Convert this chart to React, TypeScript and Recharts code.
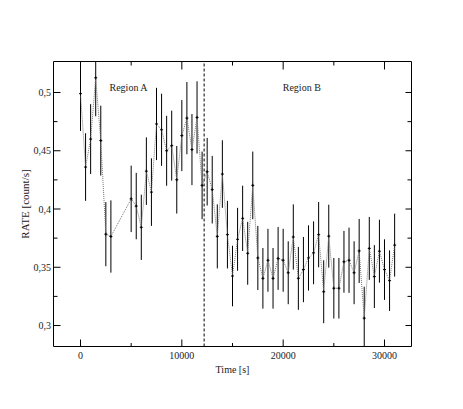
import React from 'react';
import { LineChart, Line, XAxis, YAxis, ErrorBar, ReferenceLine, ReferenceDot, Label } from 'recharts';

const times = [
  0, 500, 1000, 1500, 2000, 2500, 3000, 5000, 5500, 6000, 6500, 7000, 7500, 8000, 8500, 9000, 9500, 10000, 10500, 11000, 11500, 12000,
  12500, 13000, 13500, 14000, 14500, 15000, 15500, 16000, 16500, 17000, 17500, 18000, 18500, 19000, 19500, 20000, 20500, 21000,
  21500, 22000, 22500, 23000, 23500, 24000, 24500, 25000, 25500, 26000, 26500, 27000, 27500, 28000, 28500, 29000, 29500, 30000,
  30500, 31000,
];

const rates = [
  0.499, 0.436, 0.46, 0.5126, 0.4587, 0.3784, 0.3764, 0.4087, 0.4025, 0.3843, 0.4325, 0.4145, 0.473, 0.468, 0.45, 0.4544, 0.4251,
  0.463, 0.478, 0.451, 0.4786, 0.4203,
  0.432, 0.4166, 0.3765, 0.43, 0.378, 0.3425, 0.374, 0.392, 0.362, 0.4203, 0.358, 0.3405, 0.356, 0.3405, 0.3576, 0.356, 0.3453,
  0.376, 0.3405, 0.348, 0.358, 0.3624, 0.378, 0.329, 0.3767, 0.332, 0.332, 0.3547, 0.356, 0.3453, 0.364, 0.3063, 0.3662, 0.342,
  0.3638, 0.348, 0.3385, 0.369,
];

const errors = [
  0.032, 0.029, 0.03, 0.033, 0.03, 0.0275, 0.031, 0.0285, 0.0285, 0.028, 0.029, 0.029, 0.031, 0.031, 0.03, 0.03, 0.029, 0.0305,
  0.031, 0.0305, 0.031, 0.029,
  0.029, 0.029, 0.0275, 0.029, 0.029, 0.026, 0.027, 0.028, 0.027, 0.029, 0.0275, 0.026, 0.027, 0.026, 0.027, 0.027, 0.027, 0.028,
  0.027, 0.028, 0.028, 0.027, 0.028, 0.027, 0.027, 0.026, 0.026, 0.0265, 0.028, 0.027, 0.0275, 0.027, 0.027, 0.027, 0.027, 0.026,
  0.026, 0.027,
];

const xTicks = [0, 5000, 10000, 15000, 20000, 25000, 30000];
const xTickLabels = ['0', '', '10000', '', '20000', '', '30000'];
const yTicks = [0.3, 0.325, 0.35, 0.375, 0.4, 0.425, 0.45, 0.475, 0.5];
const yTickLabels = ['0,3', '', '0,35', '', '0,4', '', '0,45', '', '0,5'];

const regionBoundary = 12200;

const X_DOMAIN: [number, number] = [-2665, 32665];
const Y_DOMAIN: [number, number] = [0.282, 0.5266];

// error bars are cut at the frame, like the original plot
const data = times.map((t, i) => ({
  time: t,
  rate: rates[i],
  err: [Math.min(errors[i], rates[i] - Y_DOMAIN[0]), Math.min(errors[i], Y_DOMAIN[1] - rates[i])],
}));

const FONT = 'Liberation Serif, Times New Roman, serif';
const AX = 20;

function findIdx(arr: number[], v: number) {
  return arr.findIndex((a) => Math.abs(a - v) < 1e-6);
}

function BottomTick(props: any) {
  const { x, y, payload } = props;
  const i = findIdx(xTicks, payload.value);
  const label = i >= 0 ? xTickLabels[i] : '';
  const major = label !== '';
  return (
    <g>
      <line x1={x} x2={x} y1={y} y2={y - (major ? 7 : 3.5)} stroke="#000" strokeWidth={1} />
      {major && (
        <text x={x} y={y + 12} textAnchor="middle" fontFamily={FONT} fontSize={10} fill="#222">
          {label}
        </text>
      )}
    </g>
  );
}

function TopTick(props: any) {
  const { x, y, payload } = props;
  const i = findIdx(xTicks, payload.value);
  const major = i >= 0 && xTickLabels[i] !== '';
  return <line x1={x} x2={x} y1={y} y2={y + (major ? 8 : 4)} stroke="#000" strokeWidth={1} />;
}

function LeftTick(props: any) {
  const { x, y, payload } = props;
  const i = findIdx(yTicks, payload.value);
  const label = i >= 0 ? yTickLabels[i] : '';
  const major = label !== '';
  return (
    <g>
      <line x1={x} x2={x + (major ? 7 : 4)} y1={y} y2={y} stroke="#000" strokeWidth={1} />
      {major && (
        <text x={x - 2.5} y={y + 3.5} textAnchor="end" fontFamily={FONT} fontSize={10} fill="#222">
          {label}
        </text>
      )}
    </g>
  );
}

function RightTick(props: any) {
  const { x, y, payload } = props;
  const i = findIdx(yTicks, payload.value);
  const major = i >= 0 && yTickLabels[i] !== '';
  return <line x1={x} x2={x - (major ? 6 : 4)} y1={y} y2={y} stroke="#000" strokeWidth={1} />;
}

function PlusDot(props: any) {
  const { cx, cy } = props;
  if (cx == null || cy == null) return <g />;
  return (
    <g>
      <line x1={cx - 1.5} x2={cx + 1.5} y1={cy} y2={cy} stroke="#000" strokeWidth={1} />
      <line x1={cx} x2={cx} y1={cy - 1.5} y2={cy + 1.5} stroke="#000" strokeWidth={1} />
    </g>
  );
}

function regionText(text: string) {
  return (p: any) => (
    <text x={p.cx} y={p.cy} textAnchor="middle" fontFamily={FONT} fontSize={10} fill="#222">
      {text}
    </text>
  );
}

export default function App() {
  return (
    <LineChart
      width={455}
      height={401}
      data={data}
      margin={{ top: 53.5 - AX, right: 51.5 - AX, bottom: 62.5 - AX, left: 45.5 - AX }}
      style={{ background: '#fff' }}
    >
      <XAxis
        dataKey="time"
        type="number"
        domain={X_DOMAIN}
        allowDataOverflow
        ticks={xTicks}
        interval={0}
        height={AX}
        tickSize={0}
        tickMargin={0}
        tickLine={false}
        tick={<BottomTick />}
        axisLine={{ stroke: '#000', strokeWidth: 1 }}
      >
        <Label
          content={(p: any) => {
            const vb = p.viewBox || {};
            return (
              <text x={vb.x + vb.width / 2} y={vb.y + 26} textAnchor="middle" fontFamily={FONT} fontSize={10} fill="#222">
                Time [s]
              </text>
            );
          }}
        />
      </XAxis>
      <XAxis
        xAxisId="top"
        orientation="top"
        dataKey="time"
        type="number"
        domain={X_DOMAIN}
        allowDataOverflow
        ticks={xTicks}
        interval={0}
        height={AX}
        tickSize={0}
        tickMargin={0}
        tickLine={false}
        tick={<TopTick />}
        axisLine={{ stroke: '#000', strokeWidth: 1 }}
      />
      <YAxis
        type="number"
        domain={Y_DOMAIN}
        allowDataOverflow
        ticks={yTicks}
        interval={0}
        width={AX}
        tickSize={0}
        tickMargin={0}
        tickLine={false}
        tick={<LeftTick />}
        axisLine={{ stroke: '#000', strokeWidth: 1 }}
      >
        <Label
          content={(p: any) => {
            const vb = p.viewBox || {};
            const cx = vb.x + vb.width - 29;
            const cy = vb.y + vb.height / 2;
            return (
              <text
                x={cx}
                y={cy}
                transform={`rotate(-90, ${cx}, ${cy})`}
                textAnchor="middle"
                dominantBaseline="central"
                fontFamily={FONT}
                fontSize={11}
                fill="#222"
              >
                RATE [count/s]
              </text>
            );
          }}
        />
      </YAxis>
      <YAxis
        yAxisId="right"
        orientation="right"
        type="number"
        domain={Y_DOMAIN}
        allowDataOverflow
        ticks={yTicks}
        interval={0}
        width={AX}
        tickSize={0}
        tickMargin={0}
        tickLine={false}
        tick={<RightTick />}
        axisLine={{ stroke: '#000', strokeWidth: 1 }}
      />
      <ReferenceLine x={regionBoundary} stroke="#000" strokeWidth={1} strokeDasharray="3 2" />
      <Line
        dataKey="rate"
        type="linear"
        stroke="#777"
        strokeWidth={1}
        strokeDasharray="1 1"
        dot={PlusDot}
        activeDot={false}
        isAnimationActive={false}
      >
        <ErrorBar dataKey="err" direction="y" width={0} stroke="#000" strokeWidth={1} />
      </Line>
      <ReferenceDot x={4740} y={0.5013} r={0} shape={regionText('Region A')} />
      <ReferenceDot x={21840} y={0.5013} r={0} shape={regionText('Region B')} />
    </LineChart>
  );
}
